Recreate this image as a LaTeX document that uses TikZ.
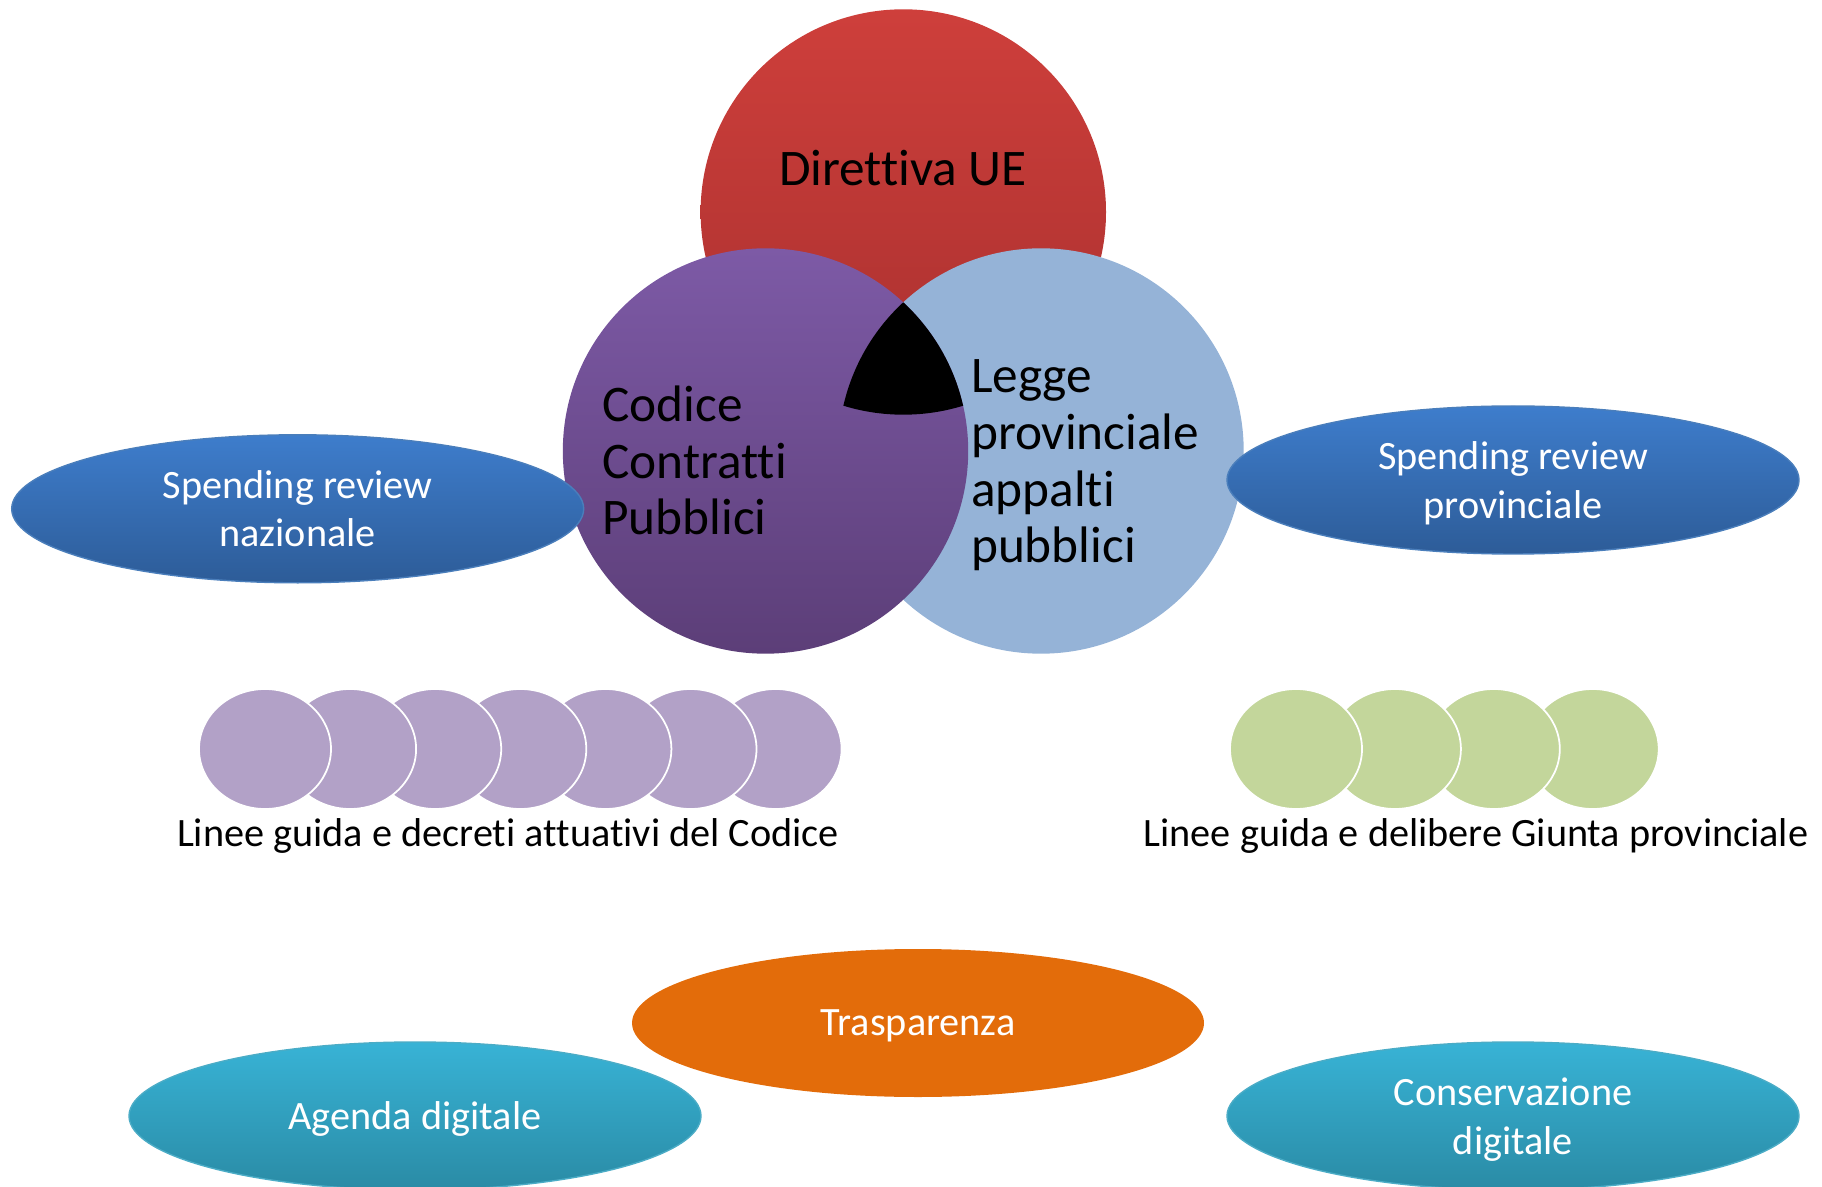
\documentclass[tikz,border=0pt]{standalone}
\usepackage{fontspec}
\setmainfont{Carlito}[Ligatures=NoCommon]
\usetikzlibrary{shapes.geometric}

\definecolor{ueTop}{HTML}{CE3F3B}
\definecolor{ueBot}{HTML}{A9302F}
\definecolor{cdTop}{HTML}{7D5AA6}
\definecolor{cdBot}{HTML}{5C3E78}
\definecolor{lpFill}{HTML}{95B3D7}
\definecolor{srTop}{HTML}{3E7DCC}
\definecolor{srBot}{HTML}{2D5C98}
\definecolor{srEdge}{HTML}{4A7EBB}
\definecolor{dgTop}{HTML}{38B3D6}
\definecolor{dgBot}{HTML}{2A8BA5}
\definecolor{dgEdge}{HTML}{4BACC6}
\definecolor{trFill}{HTML}{E36C0A}
\definecolor{lgPurple}{HTML}{B2A1C7}
\definecolor{lgGreen}{HTML}{C3D69B}

\tikzset{
	bigtext/.style={font=\fontsize{14.6}{16.13}\selectfont, inner sep=0pt, align=left},
	smalltext/.style={font=\fontsize{11.45}{13.75}\selectfont, inner sep=0pt},
	blob/.style={ellipse, smalltext, align=center, text=white, text depth=0pt, minimum width=5.72cm, minimum height=1.48cm},
	review/.style={blob, top color=srTop, bottom color=srBot, draw=srEdge, line width=0.4pt},
	digital/.style={blob, top color=dgTop, bottom color=dgBot, draw=dgEdge, line width=0.4pt},
	pill/.style={ellipse, inner sep=0pt, minimum width=1.32cm, minimum height=1.2cm, draw=white, line width=0.5pt},
}

\begin{document}
\begin{tikzpicture}
	%%%%% START %%%%%
	\useasboundingbox (0, 0) rectangle (18.22, 11.86);

	% venn
	\path[top color=ueTop, bottom color=ueBot] (9.033, 9.74) circle (2.027);
	\fill[lpFill] (10.41, 7.35) circle (2.027);
	\path[top color=cdTop, bottom color=cdBot] (7.655, 7.35) circle (2.027);
	\begin{scope}
		\clip (9.033, 9.74) circle (2.027);
		\clip (10.41, 7.35) circle (2.027);
		\fill[black] (7.655, 7.35) circle (2.027);
	\end{scope}

	\node[bigtext, anchor=base] (ue) at (9.03, 10.003) {Direttiva UE};
	\node[bigtext, anchor=base west] (codice) at (6.017, 6.51) {Codice\\Contratti\\Pubblici};
	\node[bigtext, anchor=base west] (legge) at (9.704, 6.23) {Legge\\provinciale\\appalti\\pubblici};

	% spending review
	\node[review] (srnaz) at (2.977, 6.772) {Spending review\\nazionale};
	\node[review] (srprov) at (15.13, 7.06) {Spending review\\provinciale};

	% linee guida
	\foreach \k in {6,...,0}
		\node[pill, fill=lgPurple] (lgc\k) at (2.65+0.851*\k, 4.37) {};
	\foreach \k in {3,...,0}
		\node[pill, fill=lgGreen] (lgp\k) at (12.96+0.989*\k, 4.37) {};
	\node[smalltext, anchor=base] (lgcod) at (5.08, 3.395) {Linee guida e decreti attuativi del Codice};
	\node[smalltext, anchor=base] (lggiu) at (14.76, 3.395) {Linee guida e delibere Giunta provinciale};

	% bottom
	\node[blob, fill=trFill] (trasp) at (9.18, 1.63) {Trasparenza};
	\node[digital] (agenda) at (4.15, 0.70) {Agenda digitale};
	\node[digital] (conserv) at (15.13, 0.70) {Conservazione\\digitale};
	%%%%% END %%%%%
\end{tikzpicture}
\end{document}
